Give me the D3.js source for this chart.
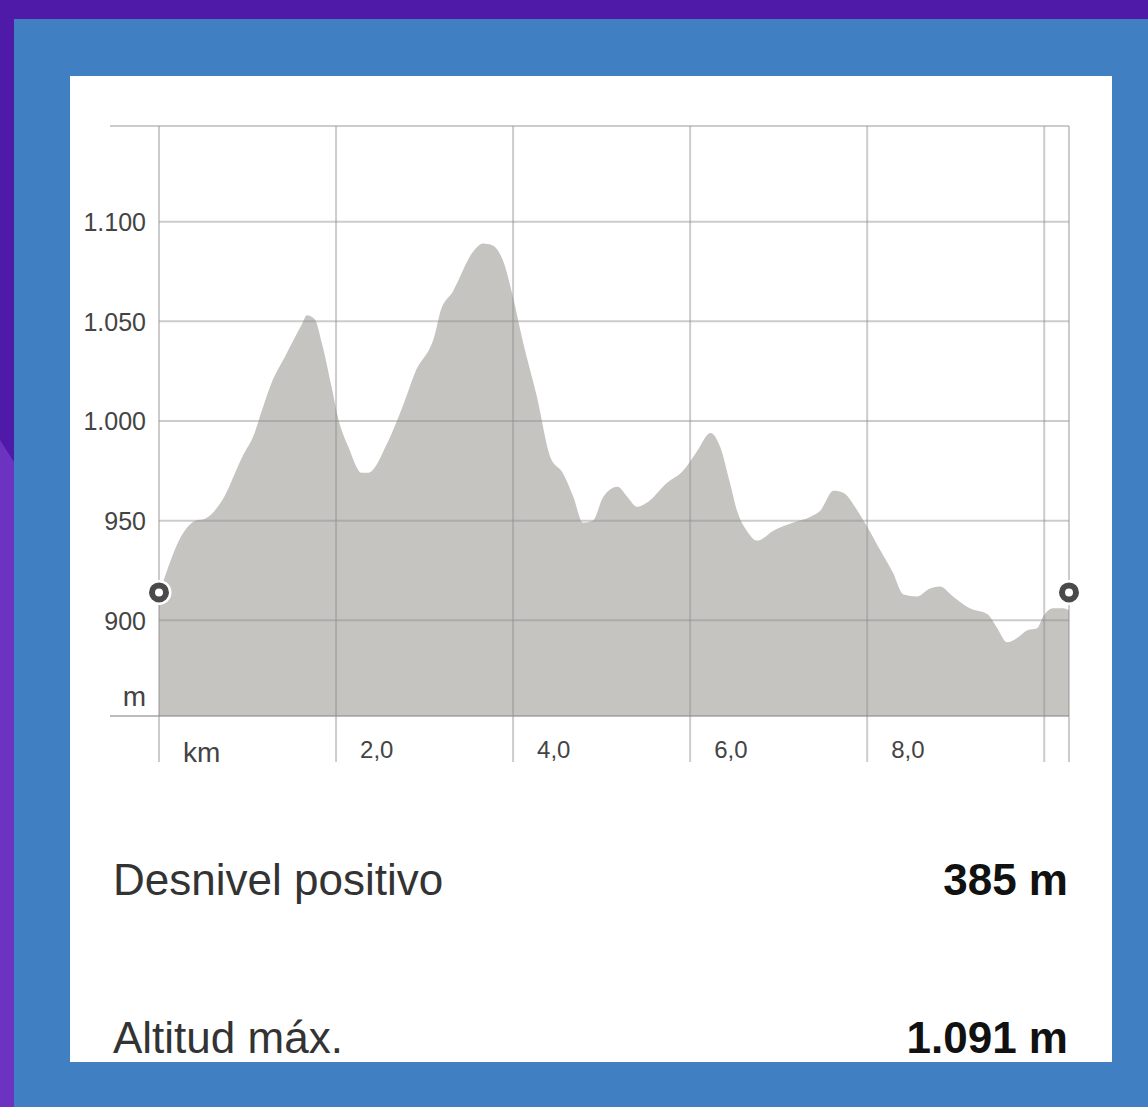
<!DOCTYPE html>
<html lang="es">
<head>
<meta charset="UTF-8">
<title>Perfil de altitud</title>
<script src="https://d3js.org/d3.v7.min.js"></script>
<style>
    body {
        margin: 0;
        padding: 0;
        background: #407fc2;
        font-family: "Liberation Sans", Arial, sans-serif;
    }
    svg { display: block; }
    .tick text { fill: #444; }
    .stat-label { fill: #333; font-size: 44px; }
    .stat-value { fill: #111; font-size: 44px; font-weight: bold; }
</style>
</head>
<body>
<svg width="1148" height="1107"></svg>
<script>
const km = [0, 0.29, 0.41, 0.52, 0.71, 0.94, 1.08, 1.16, 1.27, 1.42, 1.62, 1.67, 1.76, 1.84, 1.95,
    2.02, 2.14, 2.29, 2.36, 2.59, 2.75, 2.89, 3.12, 3.18, 3.32, 3.55, 3.66, 3.77, 3.89, 4.00,
    4.11, 4.27, 4.42, 4.56, 4.68, 4.79, 4.90, 5.02, 5.18, 5.29, 5.40, 5.51, 5.74, 5.92, 6.08,
    6.23, 6.34, 6.45, 6.53, 6.64, 6.76, 6.94, 7.16, 7.36, 7.47, 7.62, 7.73, 7.89, 8.00, 8.15,
    8.29, 8.41, 8.56, 8.71, 8.82, 8.97, 9.16, 9.36, 9.47, 9.58, 9.69, 9.81, 9.92, 9.99, 10.10,
    10.21, 10.28];
const altitud = [913, 945, 950, 951, 960, 982, 994, 1005, 1019, 1032, 1049, 1053, 1051, 1039, 1017,
    1002, 987, 974, 974, 990, 1007, 1024, 1044, 1055, 1065, 1085, 1089, 1088, 1080, 1062,
    1040, 1012, 982, 974, 962, 949, 950, 962, 967, 962, 957, 959, 969, 975, 985,
    994, 987, 969, 955, 945, 940, 945, 949, 952, 955, 965, 964, 955, 947, 935,
    924, 913, 912, 916, 917, 912, 906, 903, 896, 889, 891, 895, 896, 902, 906,
    906, 905];

const yTicks = [900, 950, 1000, 1050, 1100];
const yLabels = ["900", "950", "1.000", "1.050", "1.100"];
const xTicks = [0, 2, 4, 6, 8, 10];
const xLabels = ["km", "2,0", "4,0", "6,0", "8,0", ""];

// marcadores de inicio y fin
const marcadores = [{km: 0, alt: 914}, {km: 10.28, alt: 914}];

const stats = [
    {label: "Desnivel positivo", value: "385 m"},
    {label: "Altitud máx.", value: "1.091 m"}
];

const svg = d3.select("svg");

// fondo
svg.append("rect").attr("width", 1148).attr("height", 1107).attr("fill", "#407fc2");
svg.append("rect").attr("width", 1148).attr("height", 19).attr("fill", "#4f1aa8");
svg.append("rect").attr("width", 14).attr("height", 1107).attr("fill", "#4f1aa8");
svg.append("path").attr("d", "M0,440L14,462L14,1107L0,1107Z").attr("fill", "#6b33bf");

// tarjeta
svg.append("rect").attr("x", 70).attr("y", 76).attr("width", 1042).attr("height", 986).attr("fill", "#fff");

const x = d3.scaleLinear().domain([0, 10.28]).range([159, 1069]);
const y = d3.scaleLinear().domain([852, 1148]).range([716, 126]);

const data = km.map((d, i) => ({km: d, alt: altitud[i]}));

const area = d3.area()
    .x(d => x(d.km))
    .y0(y(852))
    .y1(d => y(d.alt))
    .curve(d3.curveMonotoneX);

svg.append("path")
    .datum(data)
    .attr("d", area)
    .attr("fill", "#c5c4c0");

// rejilla
const grid = svg.append("g").attr("stroke", "#8f8f8f").attr("stroke-opacity", 0.45).attr("stroke-width", 2);

grid.selectAll(".hgrid")
    .data(yTicks)
    .enter().append("line")
    .attr("x1", x(0)).attr("x2", x(10.28))
    .attr("y1", d => y(d)).attr("y2", d => y(d));

grid.selectAll(".vgrid")
    .data(xTicks.concat([10.28]))
    .enter().append("line")
    .attr("x1", d => x(d)).attr("x2", d => x(d))
    .attr("y1", y(1148)).attr("y2", 762);

// línea superior y base
grid.append("line").attr("x1", 110).attr("x2", x(10.28)).attr("y1", y(1148)).attr("y2", y(1148));
grid.append("line").attr("x1", 110).attr("x2", x(10.28)).attr("y1", y(852)).attr("y2", y(852))
    .attr("stroke-opacity", 0.6);

// eje y
const yAxis = svg.append("g")
    .attr("transform", "translate(146,0)")
    .call(d3.axisLeft(y).tickValues(yTicks).tickFormat((d, i) => yLabels[i]).tickSize(0).tickPadding(0));
yAxis.select(".domain").remove();
yAxis.selectAll("text")
    .style("font-family", "'Liberation Sans', Arial, sans-serif")
    .style("font-size", "25px")
    .attr("dy", "0.35em");

svg.append("text")
    .attr("x", 146).attr("y", 706)
    .attr("text-anchor", "end")
    .style("font-size", "28px")
    .style("fill", "#444")
    .text("m");

// eje x
svg.selectAll(".xlabel")
    .data(xTicks)
    .enter().append("text")
    .attr("x", d => x(d) + 24)
    .attr("y", (d, i) => i === 0 ? 762 : 758)
    .style("font-size", (d, i) => i === 0 ? "28px" : "24px")
    .style("fill", "#444")
    .text((d, i) => xLabels[i]);

// marcadores
const mk = svg.append("g");
mk.selectAll(".halo")
    .data(marcadores)
    .enter().append("circle")
    .attr("cx", d => x(d.km)).attr("cy", d => y(d.alt))
    .attr("r", 12.5).attr("fill", "#fff");
mk.selectAll(".dot")
    .data(marcadores)
    .enter().append("circle")
    .attr("cx", d => x(d.km)).attr("cy", d => y(d.alt))
    .attr("r", 7).attr("fill", "#fff")
    .attr("stroke", "#4a4a4a").attr("stroke-width", 6);

// estadísticas
const rows = svg.selectAll(".stat")
    .data(stats)
    .enter().append("g")
    .attr("transform", (d, i) => `translate(0,${895 + i * 158})`);
rows.append("text").attr("class", "stat-label").attr("x", 113).text(d => d.label);
rows.append("text").attr("class", "stat-value").attr("x", 1068).attr("text-anchor", "end").text(d => d.value);
</script>
</body>
</html>
